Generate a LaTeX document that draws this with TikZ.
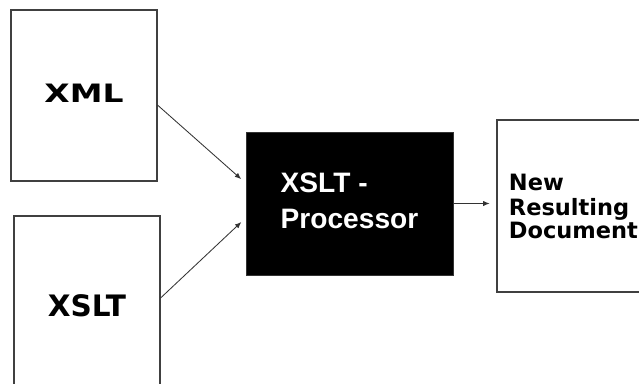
\documentclass[tikz,border=0pt]{standalone}
\usepackage{fontspec}
\setmainfont{DejaVu Sans}
\newfontfamily\procfont{Liberation Sans}
\usetikzlibrary{arrows.meta}

\begin{document}
\begin{tikzpicture}[
x=0.025cm, y=-0.025cm,
doc/.style={draw=black!75, line width=0.8pt, fill=white, inner sep=0pt},
arr/.style={-{Latex[length=1.6mm, width=1.3mm]}, line width=0.6pt, black!80}
]
\clip (0,0) rectangle (639,383);
\fill[white] (0,0) rectangle (639,383);
\node[doc, minimum width=3.65cm, minimum height=4.275cm] (xml) at (84,95.5)
  {\raisebox{0.1cm}{\fontsize{18}{20}\bfseries\scalebox{1.3}[1]{XML}}};
\node[doc, minimum width=3.65cm, minimum height=5cm] (xslt) at (87,316)
  {\raisebox{0.5cm}{\fontsize{21}{24}\bfseries XSLT}};
\node[fill=black, draw=black!80, minimum width=5.175cm, minimum height=3.575cm,
  text=white, font=\procfont\bfseries\fontsize{20}{25}\selectfont] (proc) at (349.5,203.5)
  {\raisebox{0.19cm}{\begin{tabular}{@{}l@{}}XSLT -\\Processor\end{tabular}}};
\node[doc, minimum width=4.575cm, minimum height=4.3cm, text width=3.975cm,
  inner xsep=0.3cm, align=left] (res) at (588.5,206)
  {\fontsize{16}{18}\selectfont\bfseries New\\Resulting\\Document};
\draw[arr, shorten >=0.15cm] ([yshift=-0.24cm]xml.east) -- ([yshift=0.51cm]proc.west);
\draw[arr, shorten >=0.15cm] ([yshift=0.45cm]xslt.east) -- ([yshift=-0.36cm]proc.west);
\draw[arr, shorten >=0.17cm] (proc.east) -- (proc.east -| res.west);
\end{tikzpicture}
\end{document}
